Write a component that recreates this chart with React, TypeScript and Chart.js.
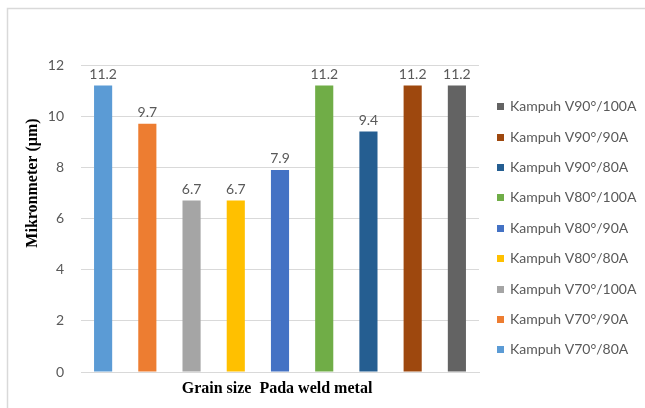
import React, { useEffect, useRef } from "react";
import { Chart, registerables } from "chart.js";

Chart.register(...registerables);

const categories = [""];
const seriesLabels = [
  "Kampuh V70°/80A",
  "Kampuh V70°/90A",
  "Kampuh V70°/100A",
  "Kampuh V80°/80A",
  "Kampuh V80°/90A",
  "Kampuh V80°/100A",
  "Kampuh V90°/80A",
  "Kampuh V90°/90A",
  "Kampuh V90°/100A",
];
const seriesValues = [11.2, 9.7, 6.7, 6.7, 7.9, 11.2, 9.4, 11.2, 11.2];
const seriesColors = [
  "#5B9BD5",
  "#ED7D31",
  "#A5A5A5",
  "#FFC000",
  "#4472C4",
  "#70AD47",
  "#255E91",
  "#9E480E",
  "#636363",
];
const yTicks = [0, 2, 4, 6, 8, 10, 12];
const yTitle = "Mikronmeter (µm)";
const xTitle = "Grain size  Pada weld metal";

const FONT = "Lato, 'Liberation Sans', sans-serif";
const TEXT_GREY = "#595959";

const decorPlugin = {
  id: "decor",
  beforeDraw(chart: any) {
    const ctx = chart.ctx;
    ctx.save();
    ctx.fillStyle = "#ffffff";
    ctx.fillRect(0, 0, chart.width, chart.height);
    ctx.strokeStyle = "#d9d9d9";
    ctx.lineWidth = 1.5;
    ctx.beginPath();
    ctx.moveTo(7.5, chart.height + 5);
    ctx.lineTo(7.5, 8.5);
    ctx.lineTo(chart.width + 5, 8.5);
    ctx.stroke();
    ctx.restore();
  },
  afterDatasetsDraw(chart: any) {
    const ctx = chart.ctx;
    ctx.save();
    // data labels
    ctx.font = `14px ${FONT}`;
    ctx.fillStyle = TEXT_GREY;
    ctx.textAlign = "center";
    ctx.textBaseline = "bottom";
    chart.data.datasets.forEach((ds: any, i: number) => {
      const meta = chart.getDatasetMeta(i);
      meta.data.forEach((el: any, j: number) => {
        const v = ds.data[j];
        ctx.fillText(v.toFixed(1), el.x, el.y - 4);
      });
    });
    // axis titles
    ctx.fillStyle = "#000000";
    ctx.font = `bold 16px 'Liberation Serif', serif`;
    ctx.textAlign = "center";
    ctx.textBaseline = "middle";
    const area = chart.chartArea;
    ctx.fillText(xTitle, (area.left + area.right) / 2 - 3, 389);
    ctx.save();
    ctx.translate(33, 183);
    ctx.rotate(-Math.PI / 2);
    ctx.fillText(yTitle, 0, 0);
    ctx.restore();
    // legend (reversed order)
    const n = chart.data.datasets.length;
    ctx.font = `14px ${FONT}`;
    ctx.textAlign = "left";
    ctx.textBaseline = "middle";
    for (let k = 0; k < n; k++) {
      const ds = chart.data.datasets[n - 1 - k];
      const cy = 106.7 + k * 30.4;
      ctx.fillStyle = ds.backgroundColor;
      ctx.fillRect(497, Math.round(cy - 3.5), 7, 7);
      ctx.fillStyle = TEXT_GREY;
      ctx.fillText(ds.label, 510, cy);
    }
    ctx.restore();
  },
};

export default function App() {
  const ref = useRef<HTMLCanvasElement | null>(null);
  useEffect(() => {
    if (!ref.current) return;
    const chart = new Chart(ref.current, {
      type: "bar",
      data: {
        labels: categories,
        datasets: seriesLabels.map((label, i) => ({
          label,
          data: [seriesValues[i]],
          backgroundColor: seriesColors[i],
          borderWidth: 0,
          categoryPercentage: 1,
          barPercentage: 0.41,
        })),
      },
      options: {
        responsive: false,
        animation: false,
        devicePixelRatio: 1,
        layout: { padding: { top: 65, bottom: 36, left: 0, right: 166 } },
        plugins: {
          legend: { display: false },
          tooltip: { enabled: false },
          title: { display: false },
        },
        scales: {
          x: {
            grid: { display: false, drawTicks: false },
            border: { display: true, color: "#d9d9d9", width: 1 },
            ticks: { display: false },
            afterFit(scale: any) {
              scale.height = 0;
            },
          },
          y: {
            min: 0,
            max: 12,
            afterBuildTicks(scale: any) {
              scale.ticks = yTicks.map((v) => ({ value: v }));
            },
            grid: { color: "#d9d9d9", drawTicks: false, lineWidth: 1 },
            border: { display: false },
            ticks: {
              padding: 17,
              color: TEXT_GREY,
              font: { family: FONT, size: 14 },
            },
            afterFit(scale: any) {
              scale.width = 81;
            },
          },
        },
      },
      plugins: [decorPlugin],
    });
    return () => chart.destroy();
  }, []);
  return (
    <div style={{ position: "fixed", left: 0, top: 0, width: 645, height: 408, background: "#fff" }}>
      <canvas ref={ref} width={645} height={408} style={{ display: "block", width: 645, height: 408 }} />
    </div>
  );
}
